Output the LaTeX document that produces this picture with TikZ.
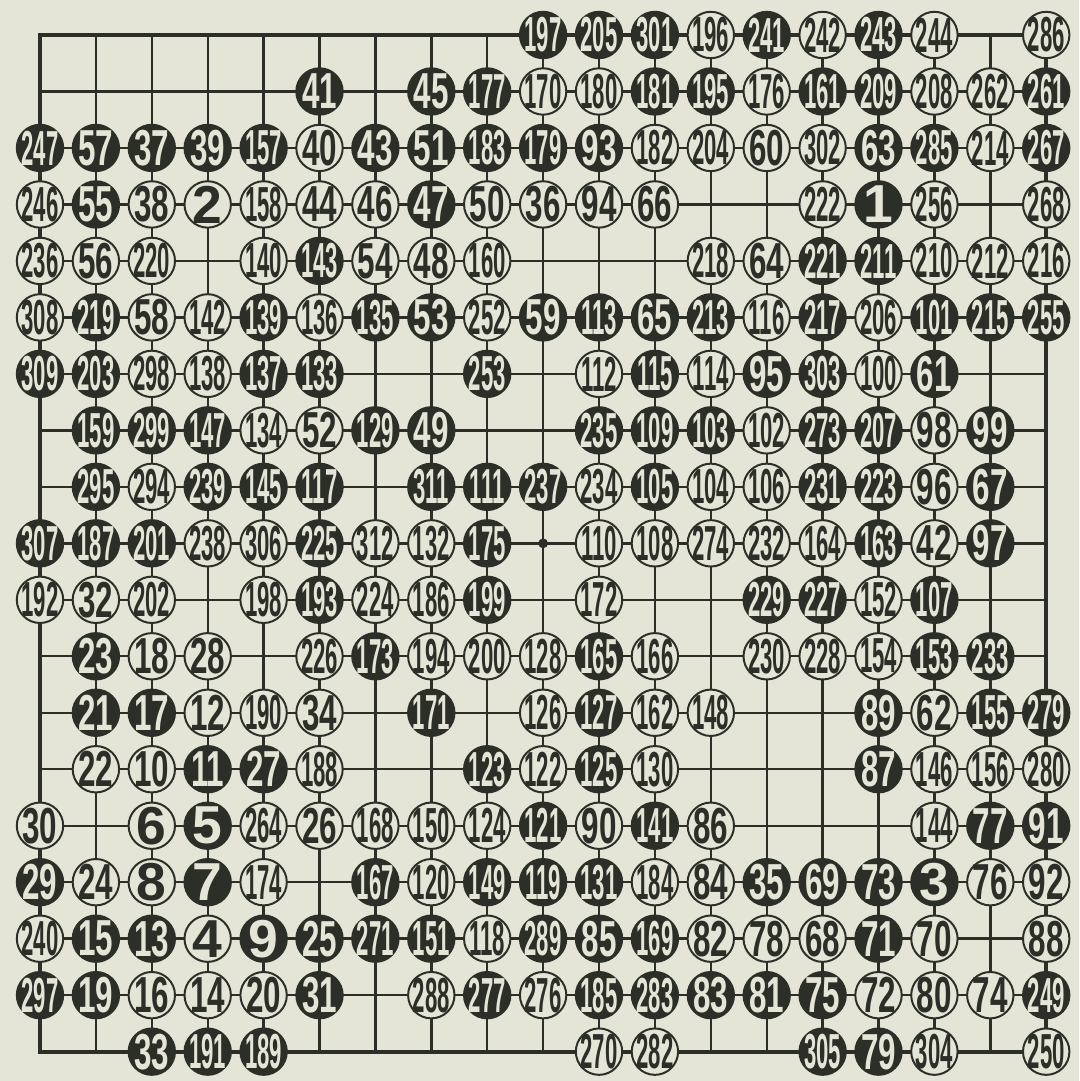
\documentclass[tikz,border=0pt]{standalone}
\usepackage{fontspec}
\usepackage{tikz}
\usetikzlibrary{positioning}
\definecolor{paper}{HTML}{E4E4D7}
\definecolor{ink}{HTML}{2B2F27}
\newfontfamily\onefig[FakeStretch=1.0]{Liberation Sans}
\newfontfamily\twofig[FakeStretch=0.62]{Liberation Sans}
\newfontfamily\threefig[FakeStretch=0.45]{Liberation Sans}
\newcommand\stonenum[1]{\bfseries\ifnum#1<10 \fontsize{38}{38}\onefig #1\else\ifnum#1<100 \fontsize{36}{36}\twofig #1\else\fontsize{35}{35}\threefig #1\fi\fi}

\begin{document}
\begin{tikzpicture}[x=1.3975cm, y=-1.412cm,
  gridline/.style={ink,line width=1.7pt},
  edgeline/.style={ink,line width=3pt},
  stone/.style={circle,draw=ink,line width=1.4pt,minimum size=1.16cm,inner sep=-5pt},
  bstone/.style={stone,fill=ink,text=paper},
  wstone/.style={stone,fill=paper,text=ink},
  hoshi/.style={circle,fill=ink,inner sep=0pt,minimum size=7pt},
]
  \fill[paper] (-1cm,0.875cm) rectangle (25.975cm,-26.15cm);

  % board
  \foreach \i in {1,...,17} {
    \draw[gridline] (\i,0) -- (\i,18);
    \draw[gridline] (0,\i) -- (18,\i);
  }
  \draw[edgeline] (0,0) rectangle (18,18);
  \node[hoshi] (tengen) at (9,9) {};

  % moves: column/row/number, odd = black
  \foreach \c/\r/\n in {
    9/0/197, 10/0/205, 11/0/301, 12/0/196, 13/0/241, 14/0/242, 15/0/243, 16/0/244, 18/0/286,
    5/1/41, 7/1/45, 8/1/177, 9/1/170, 10/1/180, 11/1/181, 12/1/195, 13/1/176, 14/1/161, 15/1/209, 16/1/208, 17/1/262, 18/1/261,
    0/2/247, 1/2/57, 2/2/37, 3/2/39, 4/2/157, 5/2/40, 6/2/43, 7/2/51, 8/2/183, 9/2/179, 10/2/93, 11/2/182, 12/2/204, 13/2/60, 14/2/302, 15/2/63, 16/2/285, 17/2/214, 18/2/267,
    0/3/246, 1/3/55, 2/3/38, 3/3/2, 4/3/158, 5/3/44, 6/3/46, 7/3/47, 8/3/50, 9/3/36, 10/3/94, 11/3/66, 14/3/222, 15/3/1, 16/3/256, 18/3/268,
    0/4/236, 1/4/56, 2/4/220, 4/4/140, 5/4/143, 6/4/54, 7/4/48, 8/4/160, 12/4/218, 13/4/64, 14/4/221, 15/4/211, 16/4/210, 17/4/212, 18/4/216,
    0/5/308, 1/5/219, 2/5/58, 3/5/142, 4/5/139, 5/5/136, 6/5/135, 7/5/53, 8/5/252, 9/5/59, 10/5/113, 11/5/65, 12/5/213, 13/5/116, 14/5/217, 15/5/206, 16/5/101, 17/5/215, 18/5/255,
    0/6/309, 1/6/203, 2/6/298, 3/6/138, 4/6/137, 5/6/133, 8/6/253, 10/6/112, 11/6/115, 12/6/114, 13/6/95, 14/6/303, 15/6/100, 16/6/61,
    1/7/159, 2/7/299, 3/7/147, 4/7/134, 5/7/52, 6/7/129, 7/7/49, 10/7/235, 11/7/109, 12/7/103, 13/7/102, 14/7/273, 15/7/207, 16/7/98, 17/7/99,
    1/8/295, 2/8/294, 3/8/239, 4/8/145, 5/8/117, 7/8/311, 8/8/111, 9/8/237, 10/8/234, 11/8/105, 12/8/104, 13/8/106, 14/8/231, 15/8/223, 16/8/96, 17/8/67,
    0/9/307, 1/9/187, 2/9/201, 3/9/238, 4/9/306, 5/9/225, 6/9/312, 7/9/132, 8/9/175, 10/9/110, 11/9/108, 12/9/274, 13/9/232, 14/9/164, 15/9/163, 16/9/42, 17/9/97,
    0/10/192, 1/10/32, 2/10/202, 4/10/198, 5/10/193, 6/10/224, 7/10/186, 8/10/199, 10/10/172, 13/10/229, 14/10/227, 15/10/152, 16/10/107,
    1/11/23, 2/11/18, 3/11/28, 5/11/226, 6/11/173, 7/11/194, 8/11/200, 9/11/128, 10/11/165, 11/11/166, 13/11/230, 14/11/228, 15/11/154, 16/11/153, 17/11/233,
    1/12/21, 2/12/17, 3/12/12, 4/12/190, 5/12/34, 7/12/171, 9/12/126, 10/12/127, 11/12/162, 12/12/148, 15/12/89, 16/12/62, 17/12/155, 18/12/279,
    1/13/22, 2/13/10, 3/13/11, 4/13/27, 5/13/188, 8/13/123, 9/13/122, 10/13/125, 11/13/130, 15/13/87, 16/13/146, 17/13/156, 18/13/280,
    0/14/30, 2/14/6, 3/14/5, 4/14/264, 5/14/26, 6/14/168, 7/14/150, 8/14/124, 9/14/121, 10/14/90, 11/14/141, 12/14/86, 16/14/144, 17/14/77, 18/14/91,
    0/15/29, 1/15/24, 2/15/8, 3/15/7, 4/15/174, 6/15/167, 7/15/120, 8/15/149, 9/15/119, 10/15/131, 11/15/184, 12/15/84, 13/15/35, 14/15/69, 15/15/73, 16/15/3, 17/15/76, 18/15/92,
    0/16/240, 1/16/15, 2/16/13, 3/16/4, 4/16/9, 5/16/25, 6/16/271, 7/16/151, 8/16/118, 9/16/289, 10/16/85, 11/16/169, 12/16/82, 13/16/78, 14/16/68, 15/16/71, 16/16/70, 18/16/88,
    0/17/297, 1/17/19, 2/17/16, 3/17/14, 4/17/20, 5/17/31, 7/17/288, 8/17/277, 9/17/276, 10/17/185, 11/17/283, 12/17/83, 13/17/81, 14/17/75, 15/17/72, 16/17/80, 17/17/74, 18/17/249,
    2/18/33, 3/18/191, 4/18/189, 10/18/270, 11/18/282, 14/18/305, 15/18/79, 16/18/304, 18/18/250} {
    \ifodd\n\relax
      \node[bstone] (m\n) at (\c,\r) {\stonenum{\n}};
    \else
      \node[wstone] (m\n) at (\c,\r) {\stonenum{\n}};
    \fi
  }
\end{tikzpicture}
\end{document}
